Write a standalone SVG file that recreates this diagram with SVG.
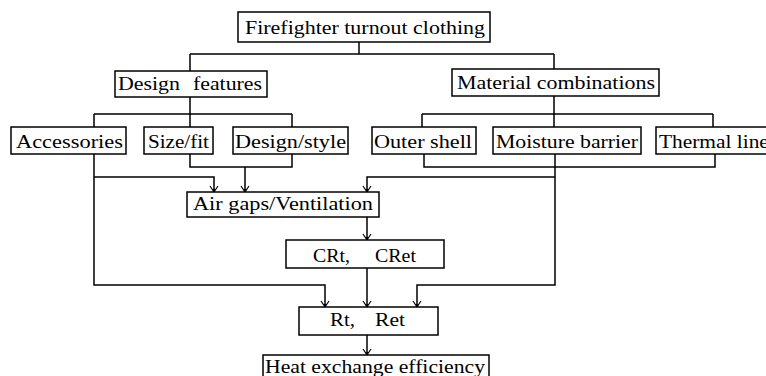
<svg xmlns="http://www.w3.org/2000/svg" width="766" height="376" viewBox="0 0 766 376">
  <style>
    .box { fill: #ffffff; stroke: #000000; stroke-width: 1.5; }
    .lbl { font-family: "Liberation Serif", "Times New Roman", serif; font-size: 18px; fill: #000000; }
    .wire { fill: none; stroke: #000000; stroke-width: 1.5; }
  </style>
  <defs>
    <marker id="arrow" markerUnits="userSpaceOnUse" markerWidth="12" markerHeight="12" refX="0" refY="0" orient="auto" overflow="visible">
      <path d="M-6,-4 L0,0 L-6,4" fill="none" stroke="#000000" stroke-width="1.2"/>
      <path d="M-3,-1.5 L0,0 L-3,1.5 Z" fill="#000000"/>
    </marker>
  </defs>
  <rect width="766" height="376" fill="#ffffff"/>

  <!-- connectors -->
  <g id="connectors" class="wire">
    <!-- top level split -->
    <path d="M359,42 V54 M190,54 H554 M190,54 V71 M554,54 V69"/>
    <!-- design features branches -->
    <path d="M190,97 V127 M94,114 H292 M94,114 V127 M292,114 V127"/>
    <!-- material combinations branches -->
    <path d="M554,96 V127 M422,114 H713 M422,114 V127 M713,114 V127"/>
    <!-- size/fit + design/style merge -->
    <path d="M190,154 V167 H292 V154"/>
    <path d="M245,167 V192" marker-end="url(#arrow)"/>
    <!-- accessories -->
    <path d="M94,154 V285 H325 V307" marker-end="url(#arrow)"/>
    <path d="M94,177 H214 V192" marker-end="url(#arrow)"/>
    <!-- outer shell + thermal liner merge -->
    <path d="M424,154 V167 H715 V154"/>
    <!-- moisture barrier -->
    <path d="M555,154 V285 H417 V307" marker-end="url(#arrow)"/>
    <path d="M555,177 H367 V192" marker-end="url(#arrow)"/>
    <!-- vertical chain -->
    <path d="M367,217 V240" marker-end="url(#arrow)"/>
    <path d="M367,268 V307" marker-end="url(#arrow)"/>
    <path d="M367,335 V355" marker-end="url(#arrow)"/>
  </g>

  <g id="firefighter-clothing">
    <rect class="box" x="238" y="12" width="252" height="30"/>
    <text class="lbl" x="245" y="34" textLength="240" lengthAdjust="spacingAndGlyphs">Firefighter turnout clothing</text>
  </g>

  <g id="design-features">
    <rect class="box" x="115" y="71" width="152" height="26"/>
    <text class="lbl" y="90"><tspan x="118" textLength="62" lengthAdjust="spacingAndGlyphs">Design</tspan><tspan x="193" textLength="69" lengthAdjust="spacingAndGlyphs">features</tspan></text>
  </g>

  <g id="material-combinations">
    <rect class="box" x="452" y="69" width="207" height="27"/>
    <text class="lbl" x="457" y="89" textLength="198" lengthAdjust="spacingAndGlyphs">Material combinations</text>
  </g>

  <g id="accessories">
    <rect class="box" x="11" y="127" width="115" height="27"/>
    <text class="lbl" x="16" y="148" textLength="107" lengthAdjust="spacingAndGlyphs">Accessories</text>
  </g>

  <g id="size-fit">
    <rect class="box" x="144" y="127" width="69" height="27"/>
    <text class="lbl" x="148" y="148" textLength="61" lengthAdjust="spacingAndGlyphs">Size/fit</text>
  </g>

  <g id="design-style">
    <rect class="box" x="233" y="127" width="115" height="27"/>
    <text class="lbl" x="235" y="148" textLength="111" lengthAdjust="spacingAndGlyphs">Design/style</text>
  </g>

  <g id="outer-shell">
    <rect class="box" x="372" y="127" width="104" height="27"/>
    <text class="lbl" x="374" y="148" textLength="98" lengthAdjust="spacingAndGlyphs">Outer shell</text>
  </g>

  <g id="moisture-barrier">
    <rect class="box" x="493" y="127" width="148" height="27"/>
    <text class="lbl" x="496" y="148" textLength="142" lengthAdjust="spacingAndGlyphs">Moisture barrier</text>
  </g>

  <g id="thermal-liner">
    <rect class="box" x="656" y="127" width="124" height="27"/>
    <text class="lbl" x="659" y="148" textLength="117" lengthAdjust="spacingAndGlyphs">Thermal liner</text>
  </g>

  <g id="air-gaps">
    <rect class="box" x="187" y="192" width="192" height="25"/>
    <text class="lbl" x="193" y="210" textLength="180" lengthAdjust="spacingAndGlyphs">Air gaps/Ventilation</text>
  </g>

  <g id="crt-cret">
    <rect class="box" x="286" y="240" width="158" height="28"/>
    <text class="lbl" y="262"><tspan x="313" textLength="37" lengthAdjust="spacingAndGlyphs">CRt,</tspan><tspan x="375" textLength="41" lengthAdjust="spacingAndGlyphs">CRet</tspan></text>
  </g>

  <g id="rt-ret">
    <rect class="box" x="299" y="307" width="139" height="28"/>
    <text class="lbl" y="326"><tspan x="330" textLength="25" lengthAdjust="spacingAndGlyphs">Rt,</tspan><tspan x="375" textLength="30" lengthAdjust="spacingAndGlyphs">Ret</tspan></text>
  </g>

  <g id="heat-exchange">
    <rect class="box" x="263" y="355" width="226" height="30"/>
    <text class="lbl" x="265" y="373" textLength="220" lengthAdjust="spacingAndGlyphs">Heat exchange efficiency</text>
  </g>
</svg>
